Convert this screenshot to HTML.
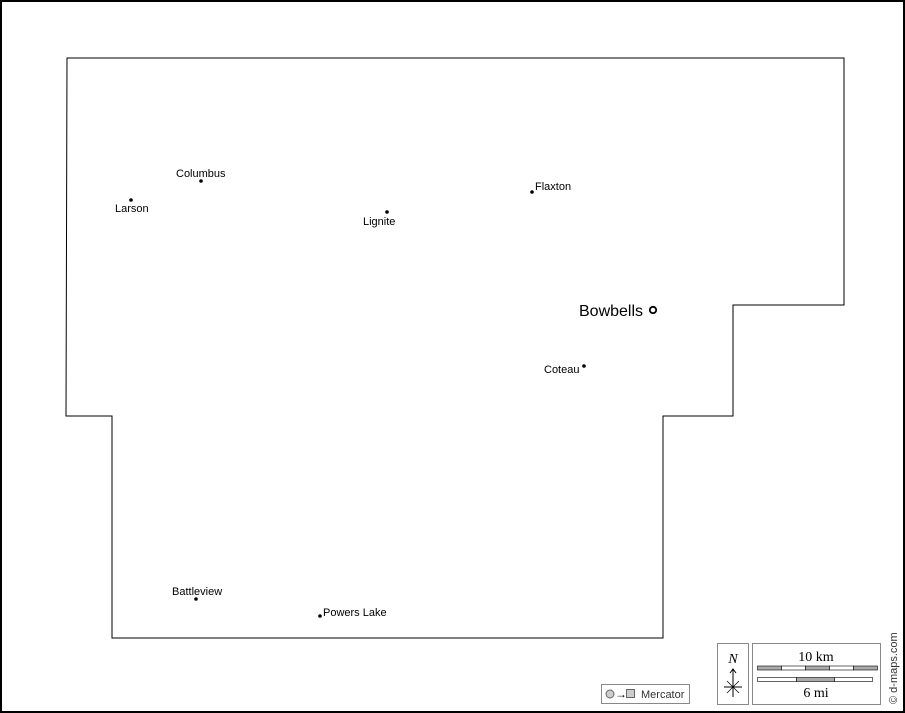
<!DOCTYPE html>
<html><head><style>
body{margin:0;background:#fff}
svg{display:block;font-family:"Liberation Sans",Arial,sans-serif}
</style></head><body>
<svg width="905" height="713" viewBox="0 0 905 713" xmlns="http://www.w3.org/2000/svg">
<rect x="1" y="1" width="903" height="711" fill="#fff" stroke="#000" stroke-width="2"/>
<polygon points="67,58 844,58 844,305 733,305 733,416 663,416 663,638 112,638 112,416 66,416" fill="none" stroke="#000" stroke-width="1"/>
<g font-size="11" fill="#000">
<circle cx="201" cy="181" r="1.8"/><text x="176" y="177">Columbus</text>
<circle cx="131" cy="200" r="1.8"/><text x="115" y="212">Larson</text>
<circle cx="387" cy="212" r="1.8"/><text x="363" y="225">Lignite</text>
<circle cx="532" cy="192" r="1.8"/><text x="535" y="190">Flaxton</text>
<circle cx="584" cy="366" r="1.8"/><text x="544" y="373">Coteau</text>
<circle cx="196" cy="599" r="1.8"/><text x="172" y="595">Battleview</text>
<circle cx="320" cy="616" r="1.8"/><text x="323" y="616">Powers Lake</text>
</g>
<circle cx="653" cy="310" r="3.2" fill="none" stroke="#000" stroke-width="1.8"/>
<text x="579" y="316" font-size="16">Bowbells</text>
<!-- mercator -->
<rect x="601.5" y="684.5" width="88" height="19" fill="#fff" stroke="#888"/>
<circle cx="610" cy="694" r="4" fill="#ccc" stroke="#666"/>
<text x="615" y="698" font-size="12">→</text>
<rect x="626.5" y="689.5" width="8" height="8" fill="#ccc" stroke="#666"/>
<text x="641" y="698" font-size="11" fill="#333">Mercator</text>
<!-- north -->
<rect x="717.5" y="643.5" width="31" height="61" fill="#fff" stroke="#888"/>
<text x="733" y="663" font-size="14" font-style="italic" font-family="Liberation Serif,serif" text-anchor="middle">N</text>
<line x1="733" y1="670" x2="733" y2="697" stroke="#000"/>
<path d="M730,673 L733,669 L736,673" fill="none" stroke="#000"/>
<line x1="724" y1="687" x2="742" y2="687" stroke="#000"/>
<line x1="727" y1="681" x2="739" y2="693" stroke="#000" stroke-width=".7"/>
<line x1="739" y1="681" x2="727" y2="693" stroke="#000" stroke-width=".7"/>
<!-- scale -->
<rect x="752.5" y="643.5" width="128" height="61" fill="#fff" stroke="#888"/>
<text x="816" y="661" font-size="14" font-family="Liberation Serif,serif" text-anchor="middle">10 km</text>
<g stroke="#000" stroke-width="0.6">
<rect x="757.5" y="666" width="24" height="4" fill="#aaa"/>
<rect x="781.5" y="666" width="24" height="4" fill="#fff"/>
<rect x="805.5" y="666" width="24" height="4" fill="#aaa"/>
<rect x="829.5" y="666" width="24" height="4" fill="#fff"/>
<rect x="853.5" y="666" width="24" height="4" fill="#aaa"/>
<rect x="757.5" y="677.5" width="39" height="4" fill="#fff"/>
<rect x="796.5" y="677.5" width="38" height="4" fill="#aaa"/>
<rect x="834.5" y="677.5" width="38" height="4" fill="#fff"/>
</g>
<text x="816" y="697" font-size="14" font-family="Liberation Serif,serif" text-anchor="middle">6 mi</text>
<text transform="translate(897,704) rotate(-90)" font-size="11" fill="#333">© d-maps.com</text>
</svg>
</body></html>
